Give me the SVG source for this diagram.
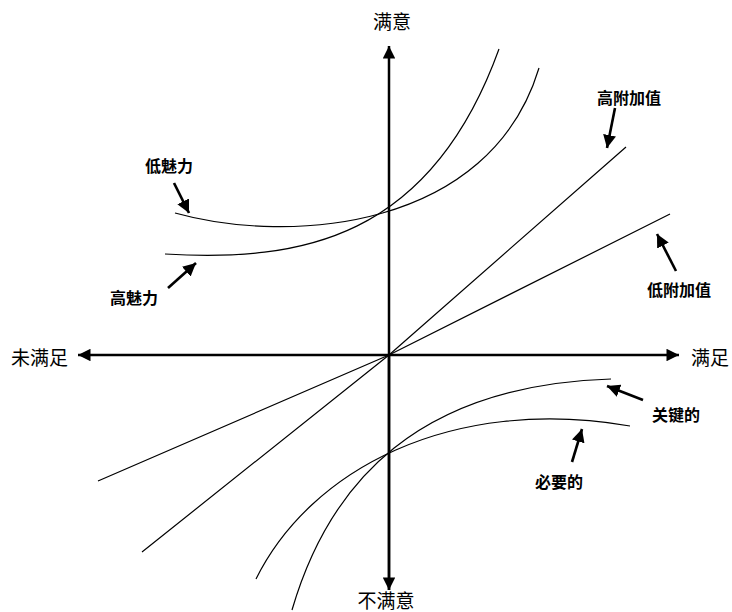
<svg xmlns="http://www.w3.org/2000/svg" width="732" height="612" viewBox="0 0 732 612">
<defs>
<marker id="axh" viewBox="0 0 10 10" refX="10" refY="5" markerWidth="5.5" markerHeight="5" markerUnits="strokeWidth" orient="auto"><path d="M0,0 L10,5 L0,10 Z" fill="#000"/></marker>
<marker id="lbh" viewBox="0 0 10 10" refX="10" refY="5" markerWidth="5" markerHeight="5" markerUnits="strokeWidth" orient="auto"><path d="M0,0 L10,5 L0,10 Z" fill="#000"/></marker>
</defs>
<style>
.ax{stroke:#000;stroke-width:2.5;fill:none}
.cv{stroke:#000;stroke-width:1.2;fill:none}
.pt{stroke:#000;stroke-width:2.6;fill:none}
.axl{font-family:"Liberation Serif","Noto Sans CJK SC",serif;font-size:19px;fill:#000}
.lb{font-family:"Liberation Sans","Noto Sans CJK SC",sans-serif;font-size:16px;font-weight:bold;fill:#000}
</style>
<rect width="732" height="612" fill="#fff"/>
<g id="connectors">
<line class="ax" x1="389" y1="590" x2="389" y2="46" marker-end="url(#axh)"/>
<line class="ax" x1="389" y1="355" x2="389" y2="590" marker-end="url(#axh)"/>
<line class="ax" x1="389" y1="355" x2="78" y2="355" marker-end="url(#axh)"/>
<line class="ax" x1="389" y1="355" x2="679" y2="355" marker-end="url(#axh)"/>
<line class="pt" x1="174" y1="183" x2="189" y2="213" marker-end="url(#lbh)"/>
<line class="pt" x1="168" y1="288" x2="196" y2="263" marker-end="url(#lbh)"/>
<line class="pt" x1="615" y1="108" x2="607" y2="148" marker-end="url(#lbh)"/>
<line class="pt" x1="676" y1="271" x2="657" y2="234" marker-end="url(#lbh)"/>
<line class="pt" x1="643" y1="400" x2="607" y2="386" marker-end="url(#lbh)"/>
<line class="pt" x1="572" y1="462" x2="582" y2="429" marker-end="url(#lbh)"/>
</g>
<g id="high-charm"><path class="cv" d="M165,254 C300,262 430,240 499,49"/><text class="lb" x="110" y="304">高魅力</text></g>
<g id="low-charm"><path class="cv" d="M175,213 C290,245 490,230 539,68"/><text class="lb" x="145" y="172">低魅力</text></g>
<g id="high-value"><polyline class="cv" points="142,552 389,355 626,147"/><text class="lb" x="597" y="104">高附加值</text></g>
<g id="low-value"><polyline class="cv" points="98,481 389,355 670,214"/><text class="lb" x="647" y="296">低附加值</text></g>
<g id="key"><path class="cv" d="M292,610 C330,480 420,385 611,379"/><text class="lb" x="652" y="421">关键的</text></g>
<g id="necessary"><path class="cv" d="M256,579 C310,470 450,395 630,426"/><text class="lb" x="535" y="488">必要的</text></g>
<g id="axis-labels">
<text class="axl" x="392" y="29" text-anchor="middle">满意</text>
<text class="axl" x="386" y="608" text-anchor="middle">不满意</text>
<text class="axl" x="11" y="365">未满足</text>
<text class="axl" x="691" y="365">满足</text>
</g>
</svg>
